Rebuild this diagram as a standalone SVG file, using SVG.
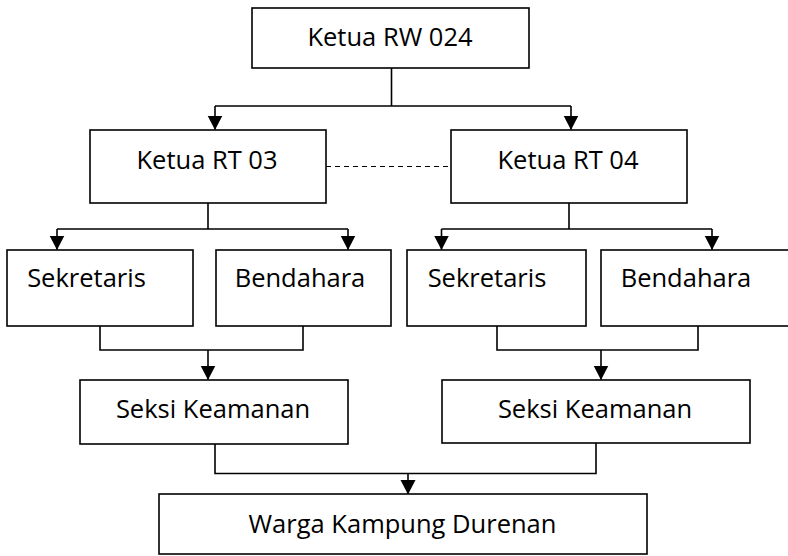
<svg xmlns="http://www.w3.org/2000/svg" width="788" height="556" viewBox="0 0 788 556">
<style>
.box{fill:#fff;stroke:#000;stroke-width:1.6}
.lbl{font-family:"Open Sans","Noto Sans","Liberation Sans",sans-serif;font-size:25.5px;fill:#000;text-anchor:middle}
.ln{fill:none;stroke:#000;stroke-width:1.6}
.dash{fill:none;stroke:#000;stroke-width:1.2;stroke-dasharray:5 4}
</style>
<defs>
<marker id="ah" markerUnits="userSpaceOnUse" markerWidth="16" markerHeight="16" refX="14" refY="7.5" orient="auto">
<path d="M0,0 L14.5,7.5 L0,15 Z" fill="#000"/>
</marker>
</defs>
<rect width="788" height="556" fill="#fff"/>
<g id="connectors">
<path class="ln" d="M391.5,68 V106 M215,106 H571"/>
<path class="ln" d="M215,106 V129.5" marker-end="url(#ah)"/>
<path class="ln" d="M571,106 V129.5" marker-end="url(#ah)"/>
<path class="dash" d="M326,166.5 H451"/>
<path class="ln" d="M208,203 V229 M57,229 H348"/>
<path class="ln" d="M57,229 V249.5" marker-end="url(#ah)"/>
<path class="ln" d="M348,229 V249.5" marker-end="url(#ah)"/>
<path class="ln" d="M569,203 V229 M441.5,229 H712"/>
<path class="ln" d="M441.5,229 V249.5" marker-end="url(#ah)"/>
<path class="ln" d="M712,229 V249.5" marker-end="url(#ah)"/>
<path class="ln" d="M100,326 V350 H303 V326"/>
<path class="ln" d="M208,350 V379.5" marker-end="url(#ah)"/>
<path class="ln" d="M497,326 V350 H698 V326"/>
<path class="ln" d="M601,350 V379.5" marker-end="url(#ah)"/>
<path class="ln" d="M215,444 V473.5 H596 V443"/>
<path class="ln" d="M408,473.5 V494" marker-end="url(#ah)"/>
</g>
<g id="rw"><rect class="box" x="252" y="8" width="277" height="60"/><text class="lbl" x="390" y="46">Ketua RW 024</text></g>
<g id="rt03"><rect class="box" x="90" y="130" width="236" height="73"/><text class="lbl" x="207" y="169">Ketua RT 03</text></g>
<g id="rt04"><rect class="box" x="451" y="130" width="236" height="73"/><text class="lbl" x="568" y="169">Ketua RT 04</text></g>
<g id="sek03"><rect class="box" x="7" y="250" width="186" height="76"/><text class="lbl" x="86.5" y="287">Sekretaris</text></g>
<g id="bend03"><rect class="box" x="216" y="250" width="175" height="76"/><text class="lbl" x="300" y="287">Bendahara</text></g>
<g id="sek04"><rect class="box" x="407" y="250" width="179" height="76"/><text class="lbl" x="487" y="287">Sekretaris</text></g>
<g id="bend04"><rect class="box" x="601" y="250" width="200" height="76"/><text class="lbl" x="686" y="287">Bendahara</text></g>
<g id="seksi03"><rect class="box" x="80" y="380" width="268" height="64"/><text class="lbl" x="213" y="418">Seksi Keamanan</text></g>
<g id="seksi04"><rect class="box" x="442" y="380" width="308" height="63"/><text class="lbl" x="595" y="418">Seksi Keamanan</text></g>
<g id="warga"><rect class="box" x="159" y="494" width="488" height="60"/><text class="lbl" x="402.5" y="533">Warga Kampung Durenan</text></g>
</svg>
